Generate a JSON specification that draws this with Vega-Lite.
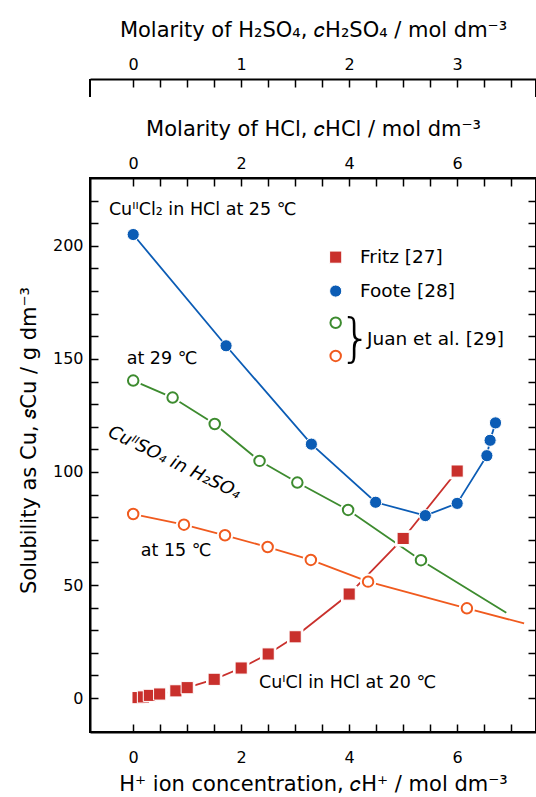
{
  "$schema": "https://vega.github.io/schema/vega-lite/v6.json",
  "padding": {"left": 17, "top": 19, "right": 0, "bottom": 4},
  "background": "white",
  "bounds": "flush",
  "spacing": 81,
  "datasets": {
    "series": [
      {"series": "Fritz", "x": 0.09, "y": 0.2, "measured": true},
      {"series": "Fritz", "x": 0.19, "y": 0.5, "measured": true},
      {"series": "Fritz", "x": 0.30, "y": 1.2, "measured": true},
      {"series": "Fritz", "x": 0.49, "y": 1.8, "measured": true},
      {"series": "Fritz", "x": 0.79, "y": 3.2, "measured": true},
      {"series": "Fritz", "x": 1.0, "y": 4.6, "measured": true},
      {"series": "Fritz", "x": 1.5, "y": 8.3, "measured": true},
      {"series": "Fritz", "x": 2.0, "y": 13.3, "measured": true},
      {"series": "Fritz", "x": 2.5, "y": 19.5, "measured": true},
      {"series": "Fritz", "x": 3.0, "y": 27.1, "measured": true},
      {"series": "Fritz", "x": 4.0, "y": 46.0, "measured": true},
      {"series": "Fritz", "x": 5.0, "y": 70.6, "measured": true},
      {"series": "Fritz", "x": 6.0, "y": 100.4, "measured": true},
      {"series": "Foote", "x": 0.0, "y": 205.0, "measured": true},
      {"series": "Foote", "x": 1.72, "y": 155.8, "measured": true},
      {"series": "Foote", "x": 3.30, "y": 112.3, "measured": true},
      {"series": "Foote", "x": 4.49, "y": 86.6, "measured": true},
      {"series": "Foote", "x": 5.41, "y": 80.7, "measured": true},
      {"series": "Foote", "x": 6.0, "y": 86.1, "measured": true},
      {"series": "Foote", "x": 6.55, "y": 107.2, "measured": true},
      {"series": "Foote", "x": 6.61, "y": 114.0, "measured": true},
      {"series": "Foote", "x": 6.71, "y": 121.7, "measured": true},
      {"series": "Juan29", "x": 0.0, "y": 140.4, "measured": true},
      {"series": "Juan29", "x": 0.73, "y": 132.9, "measured": true},
      {"series": "Juan29", "x": 1.51, "y": 121.2, "measured": true},
      {"series": "Juan29", "x": 2.34, "y": 104.9, "measured": true},
      {"series": "Juan29", "x": 3.04, "y": 95.3, "measured": true},
      {"series": "Juan29", "x": 3.98, "y": 83.2, "measured": true},
      {"series": "Juan29", "x": 5.33, "y": 61.0, "measured": true},
      {"series": "Juan29", "x": 6.91, "y": 37.7, "measured": false},
      {"series": "Juan15", "x": 0.0, "y": 81.4, "measured": true},
      {"series": "Juan15", "x": 0.94, "y": 76.7, "measured": true},
      {"series": "Juan15", "x": 1.70, "y": 72.0, "measured": true},
      {"series": "Juan15", "x": 2.49, "y": 66.8, "measured": true},
      {"series": "Juan15", "x": 3.29, "y": 61.1, "measured": true},
      {"series": "Juan15", "x": 4.35, "y": 51.5, "measured": true},
      {"series": "Juan15", "x": 6.18, "y": 39.7, "measured": true},
      {"series": "Juan15", "x": 7.24, "y": 33.0, "measured": false}
    ],
    "legendKeys": [
      {"series": "Fritz", "x": 3.75, "y": 195},
      {"series": "Foote", "x": 3.75, "y": 180},
      {"series": "Juan29", "x": 3.75, "y": 166},
      {"series": "Juan15", "x": 3.75, "y": 151.3}
    ],
    "legendLabels": [
      {"label": "Fritz [27]", "x": 4.2, "y": 195},
      {"label": "Foote [28]", "x": 4.2, "y": 180},
      {"label": "Juan et al. [29]", "x": 4.33, "y": 159}
    ],
    "brace": [{"label": "}", "x": 4.12, "y": 159}],
    "notes": [
      {"label": "CuᴵᴵCl₂ in HCl at 25 ℃", "x": -0.45, "y": 216},
      {"label": "at 29 ℃", "x": -0.12, "y": 150},
      {"label": "at 15 ℃", "x": 0.14, "y": 65.2},
      {"label": "CuᴵCl in HCl at 20 ℃", "x": 2.33, "y": 6.8}
    ],
    "slanted": [{"label": "CuᴵᴵSO₄ in H₂SO₄", "x": 0.76, "y": 104}],
    "hooks": [{"x": -0.8}, {"x": 7.46}]
  },
  "config": {
    "font": "DejaVu Sans",
    "view": {"stroke": "black", "strokeWidth": 2},
    "axis": {
      "grid": false,
      "domainColor": "black",
      "domainWidth": 2,
      "tickColor": "black",
      "tickWidth": 1.5,
      "tickSize": -8,
      "labelColor": "black",
      "titleColor": "black",
      "labelFont": "DejaVu Sans",
      "titleFont": "DejaVu Sans",
      "labelFontSize": 16,
      "titleFontSize": 21,
      "titleFontWeight": "normal",
      "labelOverlap": false,
      "labelFlush": false
    },
    "text": {"font": "DejaVu Sans", "color": "black"}
  },
  "vconcat": [
    {
      "width": 446,
      "height": 18,
      "view": {"stroke": null},
      "data": {"name": "hooks"},
      "mark": {"type": "rule", "color": "black", "strokeWidth": 2},
      "encoding": {
        "x": {
          "field": "x", "type": "quantitative",
          "scale": {"domain": [-0.8, 7.46], "nice": false, "zero": false},
          "axis": {
            "orient": "top",
            "values": [0, 0.5, 1, 1.5, 2, 2.5, 3, 3.5, 4, 4.5, 5, 5.5, 6, 6.5, 7],
            "labelExpr": "datum.value % 2 === 0 ? format(datum.value / 2, 'd') : ''",
            "labelPadding": 15,
            "title": "Molarity of H₂SO₄, 𝑐H₂SO₄ / mol dm⁻³",
            "titlePadding": 16,
            "encode": {"ticks": {"y2": {"value": {"expr": "datum.value % 2 === 0 ? 8 : 5"}}}}
          }
        }
      }
    },
    {
      "width": 446,
      "height": 554,
      "resolve": {"scale": {"x": "independent", "y": "independent"}},
      "layer": [
        {
          "encoding": {
            "x": {
              "field": "x", "type": "quantitative",
              "scale": {"domain": [-0.8, 7.46], "nice": false, "zero": false},
              "axis": {
                "orient": "bottom",
                "values": [0, 0.5, 1, 1.5, 2, 2.5, 3, 3.5, 4, 4.5, 5, 5.5, 6, 6.5, 7],
                "labelExpr": "datum.value % 2 === 0 ? format(datum.value, 'd') : ''",
                "labelPadding": 25,
                "title": "H⁺ ion concentration, 𝑐H⁺ / mol dm⁻³",
                "titlePadding": 8,
                "encode": {"ticks": {"y2": {"value": {"expr": "datum.value % 2 === 0 ? -8 : -5"}}}}
              }
            },
            "y": {
              "field": "y", "type": "quantitative",
              "scale": {"domain": [-15, 230], "nice": false, "zero": false},
              "axis": {
                "orient": "left",
                "values": [0, 10, 20, 30, 40, 50, 60, 70, 80, 90, 100, 110, 120, 130, 140, 150, 160, 170, 180, 190, 200, 210, 220],
                "labelExpr": "datum.value % 50 === 0 ? datum.label : ''",
                "labelPadding": 15,
                "title": "Solubility as Cu, 𝑠Cu / g dm⁻³",
                "titlePadding": 13,
                "titleY": 262,
                "encode": {"ticks": {"x2": {"value": {"expr": "datum.value % 50 === 0 ? 8 : 5"}}}}
              }
            }
          },
          "layer": [
            {
              "data": {"name": "series"},
              "mark": {"type": "line", "strokeWidth": 1.8},
              "encoding": {
                "color": {"field": "series", "type": "nominal", "legend": null,
                  "scale": {"domain": ["Fritz", "Foote", "Juan29", "Juan15"], "range": ["#c9302c", "#0b5cb5", "#3d8b2f", "#f05a1e"]}}
              }
            },
            {
              "data": {"name": "series"},
              "transform": [{"filter": "datum.measured && datum.series !== 'Foote'"}],
              "mark": {"type": "point", "filled": true, "color": "white", "opacity": 1, "size": 270},
              "encoding": {
                "shape": {"field": "series", "type": "nominal", "legend": null,
                  "scale": {"domain": ["Fritz", "Foote", "Juan29", "Juan15"], "range": ["square", "circle", "circle", "circle"]}}
              }
            },
            {
              "data": {"name": "series"},
              "transform": [{"filter": "datum.series === 'Fritz' || datum.series === 'Foote'"}],
              "mark": {"type": "point", "filled": true, "opacity": 1, "size": 148, "stroke": "white", "strokeWidth": 1},
              "encoding": {
                "shape": {"field": "series", "type": "nominal", "legend": null,
                  "scale": {"domain": ["Fritz", "Foote", "Juan29", "Juan15"], "range": ["square", "circle", "circle", "circle"]}},
                "fill": {"field": "series", "type": "nominal", "legend": null,
                  "scale": {"domain": ["Fritz", "Foote", "Juan29", "Juan15"], "range": ["#c9302c", "#0b5cb5", "#3d8b2f", "#f05a1e"]}}
              }
            },
            {
              "data": {"name": "series"},
              "transform": [{"filter": "datum.measured && (datum.series === 'Juan29' || datum.series === 'Juan15')"}],
              "mark": {"type": "point", "shape": "circle", "fill": "white", "opacity": 1, "size": 110, "strokeWidth": 2},
              "encoding": {
                "stroke": {"field": "series", "type": "nominal", "legend": null,
                  "scale": {"domain": ["Fritz", "Foote", "Juan29", "Juan15"], "range": ["#c9302c", "#0b5cb5", "#3d8b2f", "#f05a1e"]}}
              }
            },
            {
              "data": {"name": "legendKeys"},
              "transform": [{"filter": "datum.series === 'Fritz' || datum.series === 'Foote'"}],
              "mark": {"type": "point", "filled": true, "opacity": 1, "size": 148, "stroke": "white", "strokeWidth": 1},
              "encoding": {
                "shape": {"field": "series", "type": "nominal", "legend": null,
                  "scale": {"domain": ["Fritz", "Foote", "Juan29", "Juan15"], "range": ["square", "circle", "circle", "circle"]}},
                "fill": {"field": "series", "type": "nominal", "legend": null,
                  "scale": {"domain": ["Fritz", "Foote", "Juan29", "Juan15"], "range": ["#c9302c", "#0b5cb5", "#3d8b2f", "#f05a1e"]}}
              }
            },
            {
              "data": {"name": "legendKeys"},
              "transform": [{"filter": "datum.series === 'Juan29' || datum.series === 'Juan15'"}],
              "mark": {"type": "point", "shape": "circle", "fill": "white", "opacity": 1, "size": 110, "strokeWidth": 2},
              "encoding": {
                "stroke": {"field": "series", "type": "nominal", "legend": null,
                  "scale": {"domain": ["Fritz", "Foote", "Juan29", "Juan15"], "range": ["#c9302c", "#0b5cb5", "#3d8b2f", "#f05a1e"]}}
              }
            },
            {
              "data": {"name": "legendLabels"},
              "mark": {"type": "text", "align": "left", "baseline": "middle", "fontSize": 18.5},
              "encoding": {"text": {"field": "label"}}
            },
            {
              "data": {"name": "brace"},
              "mark": {"type": "text", "align": "center", "baseline": "middle", "fontSize": 52, "fontWeight": 200},
              "encoding": {"text": {"field": "label"}}
            },
            {
              "data": {"name": "notes"},
              "mark": {"type": "text", "align": "left", "baseline": "middle", "fontSize": 17.5},
              "encoding": {"text": {"field": "label"}}
            },
            {
              "data": {"name": "slanted"},
              "mark": {"type": "text", "align": "center", "baseline": "middle", "fontSize": 18, "fontStyle": "italic", "angle": 26},
              "encoding": {"text": {"field": "label"}}
            }
          ]
        },
        {
          "data": {"name": "series"},
          "mark": {"type": "point", "opacity": 0},
          "encoding": {
            "x": {
              "field": "x", "type": "quantitative",
              "scale": {"domain": [-0.8, 7.46], "nice": false, "zero": false},
              "axis": {
                "orient": "top",
                "values": [0, 0.5, 1, 1.5, 2, 2.5, 3, 3.5, 4, 4.5, 5, 5.5, 6, 6.5, 7],
                "labelExpr": "datum.value % 2 === 0 ? format(datum.value, 'd') : ''",
                "labelPadding": 15,
                "title": "Molarity of HCl, 𝑐HCl / mol dm⁻³",
                "titlePadding": 16,
                "encode": {"ticks": {"y2": {"value": {"expr": "datum.value % 2 === 0 ? 8 : 5"}}}}
              }
            },
            "y": {
              "field": "y", "type": "quantitative",
              "scale": {"domain": [-15, 230], "nice": false, "zero": false},
              "axis": {
                "orient": "right",
                "values": [0, 10, 20, 30, 40, 50, 60, 70, 80, 90, 100, 110, 120, 130, 140, 150, 160, 170, 180, 190, 200, 210, 220],
                "labels": false,
                "title": null,
                "encode": {"ticks": {"x2": {"value": {"expr": "datum.value % 50 === 0 ? -8 : -5"}}}}
              }
            }
          }
        }
      ]
    }
  ]
}
